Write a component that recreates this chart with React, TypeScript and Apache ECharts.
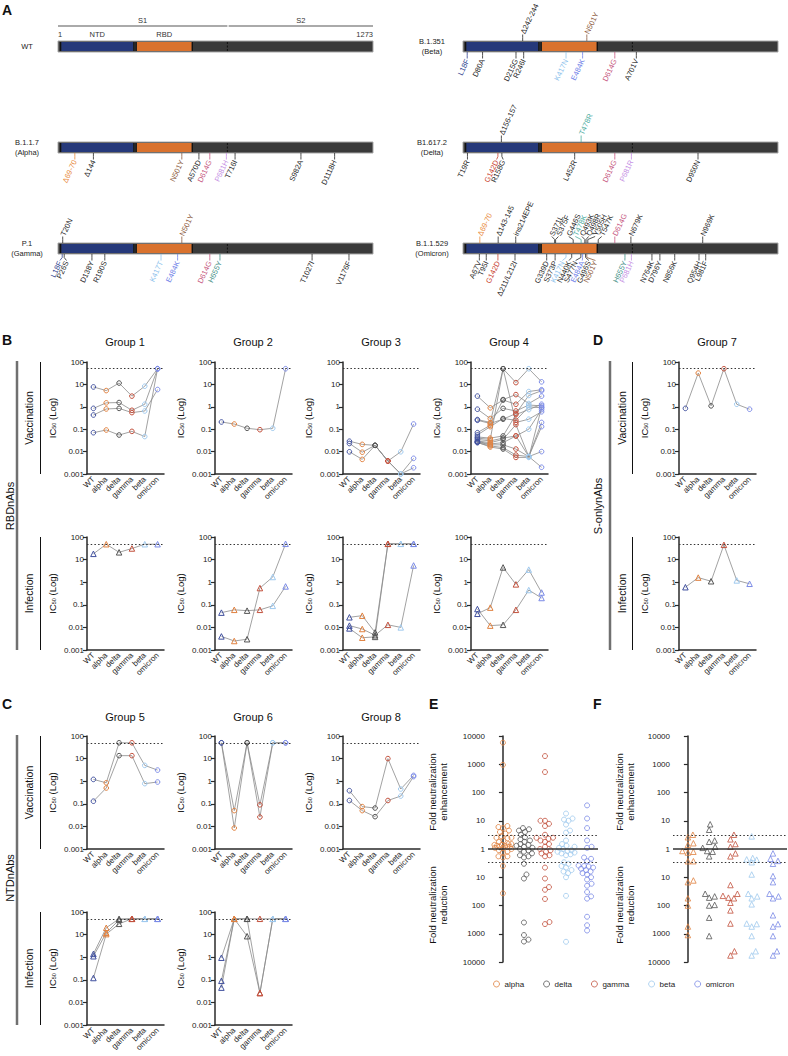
import React, { useEffect, useRef } from 'react';
import * as echarts from 'echarts';

const FONT = '"Liberation Sans", Arial, sans-serif';

// ---------------- Panel A data ----------------
const proteinLength = 1273;
const domains: [string, number, number][] = [['NTD', 14, 305], ['RBD', 319, 541]];
const subunits: [string, number, number][] = [['S1', 1, 685], ['S2', 690, 1273]];
const cleavageSite = 685;

type Mut = [string, number, 'up' | 'down'];
const wtMutations: Mut[] = [];
const betaMutations: Mut[] = [
  ['L18F', 18, 'down'], ['D80A', 80, 'down'], ['D215G', 215, 'down'], ['Δ242-244', 242, 'up'],
  ['R246I', 246, 'down'], ['K417N', 417, 'down'], ['E484K', 484, 'down'], ['N501Y', 501, 'up'],
  ['D614G', 614, 'down'], ['A701V', 701, 'down'],
];
const alphaMutations: Mut[] = [
  ['Δ69-70', 69, 'down'], ['Δ144', 144, 'down'], ['N501Y', 501, 'down'], ['A570D', 570, 'down'],
  ['D614G', 614, 'down'], ['P681H', 681, 'down'], ['T716I', 716, 'down'], ['S982A', 982, 'down'],
  ['D1118H', 1118, 'down'],
];
const deltaMutations: Mut[] = [
  ['T19R', 19, 'down'], ['G142D', 142, 'down'], ['Δ156-157', 156, 'up'], ['R158G', 158, 'down'],
  ['L452R', 452, 'down'], ['T478R', 478, 'up'], ['D614G', 614, 'down'], ['P681R', 681, 'down'],
  ['D950N', 950, 'down'],
];
const gammaMutations: Mut[] = [
  ['L18F', 18, 'down'], ['T20N', 20, 'up'], ['P26S', 26, 'down'], ['D138Y', 138, 'down'],
  ['R190S', 190, 'down'], ['K417T', 417, 'down'], ['E484K', 484, 'down'], ['N501Y', 501, 'up'],
  ['D614G', 614, 'down'], ['H655Y', 655, 'down'], ['T1027I', 1027, 'down'], ['V1176F', 1176, 'down'],
];
const omicronMutations: Mut[] = [
  ['Δ69-70', 69, 'up'], ['Δ143-145', 143, 'up'], ['ins214EPE', 214, 'up'], ['S371L', 371, 'up'],
  ['S375F', 375, 'up'], ['G446S', 446, 'up'], ['T478K', 478, 'up'], ['Q493K', 493, 'up'],
  ['Q498R', 498, 'up'], ['Y505H', 505, 'up'], ['T547K', 547, 'up'], ['D614G', 614, 'up'],
  ['N679K', 679, 'up'], ['N969K', 969, 'up'],
  ['A67V', 67, 'down'], ['T95I', 95, 'down'], ['G142D', 142, 'down'], ['Δ211/L212I', 211, 'down'],
  ['G339D', 339, 'down'], ['S373P', 373, 'down'], ['K417N', 417, 'down'], ['N440K', 440, 'down'],
  ['S477N', 477, 'down'], ['E484A', 484, 'down'], ['G496S', 496, 'down'], ['N501Y', 501, 'down'],
  ['H655Y', 655, 'down'], ['P681H', 681, 'down'], ['N764K', 764, 'down'], ['D796Y', 796, 'down'],
  ['N856K', 856, 'down'], ['Q954H', 954, 'down'], ['L981F', 981, 'down'],
];

// ---------------- Panels B, C, D data (IC50) ----------------
const categories = ['WT', 'alpha', 'delta', 'gamma', 'beta', 'omicron'];

const group1Vaccination = [
  [7.7, 5.3, 11.5, 3.0, 8.3, 50],
  [0.85, 1.5, 1.55, 0.7, 1.3, 50],
  [0.43, 0.8, 0.85, 0.55, 0.65, 5.9],
  [0.07, 0.092, 0.055, 0.08, 0.047, 50],
];
const group2Vaccination = [[0.21, 0.17, 0.11, 0.095, 0.11, 50]];
const group3Vaccination = [
  [0.029, 0.021, 0.019, 0.0038, 0.0098, 0.17],
  [0.023, 0.0094, 0.019, 0.0038, 0.001, 0.005],
  [0.0098, 0.0045, 0.019, 0.0038, 0.001, 0.0019],
];
const group4Vaccination = [
  [3.0, 0.9, 2.0, 1.3, 4.8, 5.8],
  [0.78, 0.3, 0.85, 0.65, 1.2, 1.1],
  [0.27, 0.2, 50, 12, 50, 13],
  [0.25, 0.18, 0.28, 0.5, 3.2, 5.2],
  [0.07, 0.15, 2.1, 3.5, 1.4, 3.0],
  [0.055, 0.13, 0.3, 0.25, 1.0, 0.9],
  [0.045, 0.04, 0.05, 0.45, 0.75, 1.3],
  [0.04, 0.035, 50, 0.2, 0.28, 0.6],
  [0.035, 0.03, 0.04, 0.05, 0.1, 0.75],
  [0.03, 0.025, 0.035, 0.16, 0.006, 0.2],
  [0.028, 0.022, 0.025, 0.05, 0.006, 0.13],
  [0.027, 0.02, 0.02, 0.013, 0.006, 0.01],
  [0.025, 0.018, 0.015, 0.007, 0.006, 0.002],
  [0.026, 0.016, 0.013, 0.0055, 0.0055, 0.95],
];
const group7Vaccination = [[0.85, 32, 1.1, 50, 1.3, 0.78]];

const group1Infection = [[18, 48, 21, 31, 48, 48]];
const group2Infection = [
  [0.045, 0.06, 0.055, 0.06, 0.09, 0.65],
  [0.004, 0.0025, 0.003, 0.55, 1.7, 50],
];
const group3Infection = [
  [0.028, 0.033, 0.006, 50, 50, 50],
  [0.012, 0.0085, 0.0045, 0.013, 0.01, 5.5],
  [0.009, 0.0035, 0.0038, 50, 50, 50],
];
const group4Infection = [
  [0.04, 0.075, 4.5, 0.8, 3.6, 0.35],
  [0.065, 0.012, 0.013, 0.06, 0.45, 0.2],
];
const group7Infection = [[0.6, 1.6, 1.1, 45, 1.2, 0.85]];

const group5Vaccination = [
  [1.2, 0.85, 50, 50, 5, 3.1],
  [0.13, 0.5, 13.5, 13.5, 0.78, 0.92],
];
const group6Vaccination = [
  [50, 0.05, 50, 0.09, 50, 50],
  [50, 0.0085, 50, 0.026, 50, 50],
];
const group8Vaccination = [
  [0.38, 0.075, 0.065, 10, 0.45, 1.8],
  [0.14, 0.05, 0.027, 0.14, 0.22, 1.6],
];
const group5Infection = [
  [1.4, 20, 50, 50, 50, 50],
  [1.1, 12, 45, 50, 50, 50],
  [0.12, 10.5, 30, 50, 50, 50],
];
const group6Infection = [
  [0.95, 50, 50, 50, 50, 50],
  [0.09, 50, 8.5, 0.026, 50, 50],
  [0.045, 50, 50, 0.026, 50, 50],
];
const detectionLimit = 50;

// ---------------- Panels E, F data (fold change vs WT) ----------------
const foldCategories = ['alpha', 'delta', 'gamma', 'beta', 'omicron'];
const vaccAlphaFold = [5800, 950, 6.5, 6, 5.5, 4.5, 4, 3.5, 2.8, 2.5, 2.5, 2.4, 2, 1.8, 1.5, 1.5, 1.4, 1.4, 1.3, 1.3, 1.2, 1.2, 1.2, 1.1, 1.1, 1.0, 0.9, 0.8, 0.75, 0.55, 0.55, 0.5, 0.25, 0.027];
const vaccDeltaFold = [5.5, 5, 4.5, 4, 3.2, 2.6, 2.2, 2, 1.8, 1.5, 1.4, 1.3, 1.2, 1.1, 1.0, 0.9, 0.8, 0.7, 0.6, 0.55, 0.5, 0.3, 0.125, 0.09, 0.0025, 0.0009, 0.00062, 0.00053];
const vaccGammaFold = [1950, 530, 10, 10, 7.8, 6.5, 3.2, 2.5, 2.5, 2.3, 2, 1.8, 1.5, 1.2, 1.0, 0.9, 0.8, 0.7, 0.6, 0.55, 0.22, 0.09, 0.045, 0.036, 0.017, 0.0026, 0.0022];
const vaccBetaFold = [18, 12, 11, 10, 7.3, 4.5, 3.8, 2, 1.5, 1.3, 1.2, 1.1, 1, 0.9, 0.85, 0.8, 0.75, 0.7, 0.65, 0.6, 0.34, 0.3, 0.25, 0.22, 0.18, 0.16, 0.14, 0.1, 0.022, 0.00052];
const vaccOmicronFold = [35, 12, 5.5, 2, 1.2, 1.1, 0.5, 0.45, 0.37, 0.26, 0.25, 0.24, 0.22, 0.2, 0.18, 0.16, 0.14, 0.125, 0.1, 0.083, 0.059, 0.05, 0.03, 0.021, 0.0175, 0.004, 0.002, 0.0013];

const infAlphaFold = [3.2, 2.6, 1.6, 1.4, 0.85, 0.8, 0.75, 0.37, 0.37, 0.077, 0.067, 0.018, 0.01, 0.0018, 0.0009];
const infDeltaFold = [7.5, 4.8, 2, 1.8, 1.2, 1.1, 0.85, 0.8, 0.55, 0.026, 0.021, 0.019, 0.01, 0.0105, 0.0037, 0.00083];
const infGammaFold = [3.2, 2.2, 1.5, 1.2, 0.7, 0.55, 0.053, 0.026, 0.022, 0.019, 0.018, 0.0125, 0.0067, 0.0023, 0.00024, 0.00017];
const infBetaFold = [2.8, 0.48, 0.43, 0.42, 0.34, 0.125, 0.026, 0.021, 0.018, 0.011, 0.0023, 0.0018, 0.0022, 0.00083, 0.00024, 0.00017];
const infOmicronFold = [0.7, 0.45, 0.38, 0.3, 0.11, 0.067, 0.026, 0.021, 0.018, 0.0045, 0.0018, 0.0022, 0.00083, 0.00024, 0.00017];
const foldThresholds = [3, 0.333];

// ---------------- styles ----------------
const variantColors: Record<string, string> = {
  WT: '#3f4f9e', alpha: '#e0813f', delta: '#555555', gamma: '#c2503c', beta: '#9fc9ee', omicron: '#7a8ae6',
};
const domainColors: Record<string, string> = { NTD: '#26397a', RBD: '#d9722e' };

function mutColor(name: string): string {
  if (name.startsWith('L18')) return '#2f3f8f';
  if (name.startsWith('Δ69')) return '#e8893a';
  if (name.startsWith('K417')) return '#8fc3ec';
  if (name.startsWith('E484')) return '#6f82e8';
  if (name.startsWith('N501')) return '#8c5a3c';
  if (name.startsWith('D614')) return '#c65680';
  if (name.startsWith('P681')) return '#c690e4';
  if (name.startsWith('T478')) return '#4fae9f';
  if (name.startsWith('H655')) return '#3e8e84';
  if (name.startsWith('G142')) return '#c9412f';
  return '#262626';
}

function dodge(xs: number[], d: number): number[] {
  const order = xs.map((_, i) => i).sort((a, b) => xs[a] - xs[b]);
  const clusters: { m: number[]; c: number }[] = [];
  for (const i of order) {
    clusters.push({ m: [i], c: xs[i] });
    while (clusters.length > 1) {
      const b = clusters[clusters.length - 1];
      const a = clusters[clusters.length - 2];
      const aEnd = a.c + ((a.m.length - 1) * d) / 2;
      const bStart = b.c - ((b.m.length - 1) * d) / 2;
      if (bStart - aEnd < d) {
        const m = a.m.concat(b.m);
        const c = m.reduce((s, k) => s + xs[k], 0) / m.length;
        clusters.splice(clusters.length - 2, 2, { m, c });
      } else break;
    }
  }
  const out = new Array(xs.length).fill(0);
  for (const cl of clusters) cl.m.forEach((k, j) => (out[k] = cl.c + (j - (cl.m.length - 1) / 2) * d));
  return out;
}

// beeswarm offsets (pixels), limited to +-maxOff
function swarm(values: number[], pxPerDecade: number, minDist: number, step: number, maxOff: number): number[] {
  const ys = values.map((v) => Math.log10(v) * pxPerDecade);
  const order = ys.map((_, i) => i).sort((a, b) => ys[a] - ys[b]);
  const placed: [number, number][] = [];
  const out = new Array(values.length).fill(0);
  for (const i of order) {
    let best = 0;
    let bestScore = -1;
    let found = false;
    for (let k = 0; ; k++) {
      const cand = k === 0 ? 0 : (k % 2 === 1 ? 1 : -1) * Math.ceil(k / 2) * step;
      if (Math.abs(cand) > maxOff) break;
      let dmin = Infinity;
      for (const [px, py] of placed) dmin = Math.min(dmin, Math.hypot(px - cand, py - ys[i]));
      if (dmin >= minDist) {
        best = cand;
        found = true;
        break;
      }
      if (dmin > bestScore) {
        bestScore = dmin;
        best = cand;
      }
    }
    void found;
    placed.push([best, ys[i]]);
    out[i] = best;
  }
  return out;
}

const icFmt = (v: number) => {
  const e = Math.round(Math.log10(v));
  return e >= 0 ? String(Math.pow(10, e)) : Math.pow(10, e).toFixed(-e);
};
const foldFmt = (v: number) => String(Math.round(v >= 1 ? v : 1 / v));

function txt(text: string, x: number, y: number, size: number, opts: any = {}) {
  const align = opts.align || 'center';
  return {
    type: 'text', x, y, rotation: opts.rotation || 0, silent: true,
    style: {
      text, fill: opts.fill || '#111', fontSize: size, fontFamily: FONT, fontWeight: opts.bold ? 'bold' : 'normal',
      align, textAlign: align, verticalAlign: 'middle', textVerticalAlign: 'middle', lineHeight: opts.lineHeight,
    },
  };
}

function buildOption() {
  const grid: any[] = [];
  const xAxis: any[] = [];
  const yAxis: any[] = [];
  const series: any[] = [];
  const graphic: any[] = [];
  const addGrid = (g: any, x: any, y: any) => {
    grid.push(g);
    const i = grid.length - 1;
    xAxis.push({ ...x, gridIndex: i });
    yAxis.push({ ...y, gridIndex: i });
    return i;
  };

  // ---------- Panel A ----------
  const PW = 315;
  const addProtein = (left: number, top: number, label: string, muts: Mut[], header: boolean) => {
    const gi = addGrid(
      { left, top, width: PW, height: 11 },
      { type: 'value', min: 1, max: proteinLength, show: false },
      { type: 'value', min: 0, max: 1, show: false },
    );
    series.push({
      type: 'custom', xAxisIndex: gi, yAxisIndex: gi, silent: true, data: [[1, 0]],
      renderItem: (_p: any, api: any) => {
        const X = (r: number) => api.coord([r, 0])[0];
        const yT = api.coord([1, 1])[1];
        const yB = api.coord([1, 0])[1];
        const h = yB - yT;
        const x0 = X(1);
        const x1 = X(proteinLength);
        const ch: any[] = [
          { type: 'rect', shape: { x: x0, y: yT, width: x1 - x0, height: h }, style: { fill: '#3a3a3a', stroke: '#a8a8a8', lineWidth: 1 } },
        ];
        domains.forEach(([name, s, e]) => {
          ch.push({ type: 'rect', shape: { x: X(s), y: yT + 1, width: X(e) - X(s), height: h - 2 }, style: { fill: domainColors[name] } });
          ch.push({ type: 'line', shape: { x1: X(s) - 0.6, y1: yT + 1, x2: X(s) - 0.6, y2: yB - 1 }, style: { stroke: '#111', lineWidth: 1.2 } });
          ch.push({ type: 'line', shape: { x1: X(e) + 0.6, y1: yT + 1, x2: X(e) + 0.6, y2: yB - 1 }, style: { stroke: '#111', lineWidth: 1.2 } });
        });
        ch.push({ type: 'line', shape: { x1: X(cleavageSite), y1: yT + 1, x2: X(cleavageSite), y2: yB - 1 }, style: { stroke: '#111', lineWidth: 1, lineDash: [2, 1.5] } });
        ch.push(txt(label, x0 - 31, (yT + yB) / 2, 7.5, { fill: '#222', lineHeight: 10 }));
        if (header) {
          subunits.forEach(([n, s, e]) => {
            ch.push({ type: 'line', shape: { x1: X(s), y1: yT - 15, x2: X(e), y2: yT - 15 }, style: { stroke: '#8e8e8e', lineWidth: 1.5 } });
            ch.push(txt(n, (X(s) + X(e)) / 2, yT - 21, 7.5, { fill: '#333' }));
          });
          ch.push(txt('1', X(1), yT - 7, 7.5, { fill: '#333', align: 'left' }));
          domains.forEach(([n, s, e]) => ch.push(txt(n, X((s + e) / 2), yT - 7, 7.5, { fill: '#333' })));
          ch.push(txt(String(proteinLength), X(proteinLength), yT - 7, 7.5, { fill: '#333', align: 'right' }));
        }
        return { type: 'group', children: ch };
      },
    });
    if (!muts.length) return;
    const resPerPx = (proteinLength - 1) / PW;
    const labelPos: number[] = new Array(muts.length).fill(0);
    (['up', 'down'] as const).forEach((side) => {
      const ids = muts.map((_, i) => i).filter((i) => muts[i][2] === side);
      const pos = dodge(ids.map((i) => muts[i][1]), 6.6 * resPerPx);
      ids.forEach((id, k) => (labelPos[id] = pos[k]));
    });
    series.push({
      type: 'custom', xAxisIndex: gi, yAxisIndex: gi, silent: true,
      data: muts.map((m, i) => [m[1], 0, labelPos[i], i]),
      renderItem: (_p: any, api: any) => {
        const m = muts[api.value(3)];
        const x = api.coord([api.value(0), 0])[0];
        const lx = api.coord([api.value(2), 0])[0];
        const yT = api.coord([1, 1])[1];
        const yB = api.coord([1, 0])[1];
        const up = m[2] === 'up';
        const s = up ? -1 : 1;
        const y0 = up ? yT : yB;
        const c = mutColor(m[0]);
        return {
          type: 'group',
          children: [
            { type: 'polyline', shape: { points: [[x, y0], [x, y0 + s * 3.5], [lx, y0 + s * 6.5]] }, style: { stroke: c, lineWidth: 0.8, fill: 'none' } },
            {
              type: 'text', x: lx, y: y0 + s * 7.5, rotation: (65 * Math.PI) / 180,
              style: { text: m[0], fill: c, fontSize: 7.5, fontFamily: FONT, align: up ? 'left' : 'right', textAlign: up ? 'left' : 'right', verticalAlign: 'middle', textVerticalAlign: 'middle' },
            },
          ],
        };
      },
    });
  };
  addProtein(58, 41, 'WT', wtMutations, true);
  addProtein(463, 41, 'B.1.351\n(Beta)', betaMutations, false);
  addProtein(58, 142, 'B.1.1.7\n(Alpha)', alphaMutations, false);
  addProtein(463, 142, 'B1.617.2\n(Delta)', deltaMutations, false);
  addProtein(58, 243, 'P.1\n(Gamma)', gammaMutations, false);
  addProtein(463, 243, 'B.1.1.529\n(Omicron)', omicronMutations, false);

  // ---------- line charts ----------
  const axisLineStyle = { color: '#2a2a2a', width: 1.5 };
  const addLineChart = (left: number, top: number, height: number, lines: number[][], infection: boolean) => {
    const gi = addGrid(
      { left, top, width: 77, height },
      {
        type: 'category', data: categories, boundaryGap: true,
        axisLine: { lineStyle: axisLineStyle },
        axisTick: { alignWithLabel: true, length: 3, lineStyle: { color: '#2a2a2a', width: 1 } },
        axisLabel: { rotate: 45, fontSize: 8, color: '#222', margin: 4, fontFamily: FONT, interval: 0 },
      },
      {
        type: 'log', logBase: 10, min: 0.001, max: 100,
        name: 'IC{s|50} (Log)', nameLocation: 'middle', nameRotate: 90, nameGap: 30,
        nameTextStyle: { fontSize: 9.5, color: '#111', fontFamily: FONT, rich: { s: { fontSize: 5.5, fontFamily: FONT, color: '#111', verticalAlign: 'bottom' } } },
        axisLine: { show: true, lineStyle: axisLineStyle },
        axisTick: { show: true, length: 4, lineStyle: { color: '#2a2a2a', width: 1.2 } },
        splitLine: { show: false },
        axisLabel: { fontSize: 8, color: '#222', fontFamily: FONT, formatter: icFmt, margin: 3 },
      },
    );
    lines.forEach((vals, li) => {
      series.push({
        type: 'line', xAxisIndex: gi, yAxisIndex: gi, silent: true,
        symbol: infection ? 'triangle' : 'circle', symbolSize: infection ? 5.5 : 4.6, showAllSymbol: true,
        lineStyle: { color: '#8a8a8a', width: 0.8 },
        itemStyle: { color: 'rgba(255,255,255,0)', borderWidth: 1 },
        data: vals.map((v, j) => ({ value: v, itemStyle: { borderColor: variantColors[categories[j]] } })),
        markLine: li === 0 ? {
          silent: true, symbol: ['none', 'none'], label: { show: false },
          lineStyle: { type: [1.5, 2.2], color: '#333', width: 1.2 },
          data: [{ yAxis: detectionLimit }],
        } : undefined,
      });
    });
    return gi;
  };

  const lefts = [87, 215, 343, 471];
  addLineChart(lefts[0], 362, 112, group1Vaccination, false);
  addLineChart(lefts[1], 362, 112, group2Vaccination, false);
  addLineChart(lefts[2], 362, 112, group3Vaccination, false);
  addLineChart(lefts[3], 362, 112, group4Vaccination, false);
  addLineChart(679, 362, 112, group7Vaccination, false);
  addLineChart(lefts[0], 537, 113, group1Infection, true);
  addLineChart(lefts[1], 537, 113, group2Infection, true);
  addLineChart(lefts[2], 537, 113, group3Infection, true);
  addLineChart(lefts[3], 537, 113, group4Infection, true);
  addLineChart(679, 537, 113, group7Infection, true);
  addLineChart(lefts[0], 736, 113, group5Vaccination, false);
  addLineChart(lefts[1], 736, 113, group6Vaccination, false);
  addLineChart(lefts[2], 736, 113, group8Vaccination, false);
  addLineChart(lefts[0], 912, 113, group5Infection, true);
  addLineChart(lefts[1], 912, 113, group6Infection, true);

  // ---------- swarm charts ----------
  const addSwarm = (left: number, width: number, xMin: number, xMax: number, sets: number[][], tri: boolean) => {
    const height = 226;
    const gi = addGrid(
      { left, top: 736, width, height },
      { type: 'value', min: xMin, max: xMax, show: false },
      {
        type: 'log', logBase: 10, min: 0.0001, max: 10000,
        axisLine: { show: true, lineStyle: axisLineStyle },
        axisTick: { show: true, length: 4, lineStyle: { color: '#2a2a2a', width: 1.2 } },
        splitLine: { show: false },
        axisLabel: { fontSize: 8, color: '#222', fontFamily: FONT, formatter: foldFmt, margin: 3 },
      },
    );
    const pxPerUnit = width / (xMax - xMin);
    sets.forEach((vals, ci) => {
      const offs = swarm(vals, height / 8, tri ? 5.5 : 4.5, 0.5, tri ? 8 : 8.5);
      const name = foldCategories[ci];
      series.push({
        type: 'scatter', name, xAxisIndex: gi, yAxisIndex: gi, silent: true,
        symbol: tri ? 'triangle' : 'circle', symbolSize: tri ? 5.5 : 5,
        itemStyle: { color: 'rgba(255,255,255,0)', borderColor: variantColors[name], borderWidth: 1 },
        data: vals.map((v, i) => [ci + offs[i] / pxPerUnit, v]),
        markLine: ci === 0 ? {
          silent: true, symbol: ['none', 'none'], label: { show: false },
          data: [
            { yAxis: 1, lineStyle: { type: 'solid', color: '#333', width: 1.5 } },
            ...foldThresholds.map((t) => ({ yAxis: t, lineStyle: { type: [1.5, 2.2], color: '#333', width: 1.2 } })),
          ],
        } : undefined,
      });
    });
  };
  addSwarm(488, 110, -0.71, 4.52, [vaccAlphaFold, vaccDeltaFold, vaccGammaFold, vaccBetaFold, vaccOmicronFold], false);
  addSwarm(673, 114, -0.7, 4.66, [infAlphaFold, infDeltaFold, infGammaFold, infBetaFold, infOmicronFold], true);

  // ---------- decorations ----------
  const R = Math.PI / 2;
  [['A', 2, 10], ['B', 2, 340], ['C', 2, 704], ['D', 593, 340], ['E', 429, 704], ['F', 593, 704]].forEach(([t, x, y]) =>
    graphic.push(txt(t as string, x as number, y as number, 14, { bold: true, align: 'left' })),
  );
  const titles: [string, number, number][] = [
    ['Group 1', lefts[0], 342], ['Group 2', lefts[1], 342], ['Group 3', lefts[2], 342], ['Group 4', lefts[3], 342],
    ['Group 7', 679, 342], ['Group 5', lefts[0], 717], ['Group 6', lefts[1], 717], ['Group 8', lefts[2], 717],
  ];
  titles.forEach(([t, l, y]) => graphic.push(txt(t, l + 38, y, 11)));

  const vline = (x: number, y1: number, y2: number, w: number, c: string) =>
    ({ type: 'line', silent: true, shape: { x1: x, y1, x2: x, y2 }, style: { stroke: c, lineWidth: w } });
  graphic.push(vline(17, 361, 650, 2.5, '#707070'));
  graphic.push(vline(17, 735, 1025, 2.5, '#707070'));
  graphic.push(vline(610, 361, 650, 2.5, '#707070'));
  graphic.push(txt('RBDnAbs', 10, 506, 11, { rotation: R }));
  graphic.push(txt('NTDnAbs', 10, 878, 11, { rotation: R }));
  graphic.push(txt('S-onlynAbs', 598, 506, 11, { rotation: R }));
  const rows: [string, number, number, number, number][] = [
    ['Vaccination', 29, 40.5, 362, 474], ['Infection', 29, 40.5, 537, 650],
    ['Vaccination', 29, 40.5, 736, 849], ['Infection', 29, 40.5, 912, 1025],
    ['Vaccination', 622, 632.5, 362, 474], ['Infection', 622, 632.5, 537, 650],
  ];
  rows.forEach(([t, tx, lx, y1, y2]) => {
    graphic.push(vline(lx, y1, y2, 1, '#111'));
    graphic.push(txt(t, tx, (y1 + y2) / 2, 10.5, { rotation: R }));
  });
  [[438, 'enhancement', 792], [438, 'reduction', 905], [625, 'enhancement', 792], [625, 'reduction', 905]].forEach(([x, w, y]) =>
    graphic.push(txt('Fold neutralization\n' + w, x as number, y as number, 9.5, { rotation: R, lineHeight: 11.5 })),
  );

  return {
    animation: false,
    backgroundColor: '#ffffff',
    textStyle: { fontFamily: FONT },
    grid, xAxis, yAxis, series, graphic,
    legend: {
      left: 488, top: 975, itemWidth: 6, itemHeight: 6, itemGap: 19, icon: 'circle',
      textStyle: { fontSize: 8, color: '#222', fontFamily: FONT },
      data: foldCategories.map((n) => ({ name: n, itemStyle: { color: 'rgba(255,255,255,0)', borderColor: variantColors[n], borderWidth: 1 } })),
    },
  };
}

export default function App() {
  const ref = useRef<HTMLDivElement>(null);
  useEffect(() => {
    const chart = echarts.init(ref.current!, undefined, { renderer: 'svg', width: 788, height: 1056 });
    chart.setOption(buildOption() as any);
    return () => chart.dispose();
  }, []);
  return (
    <div
      ref={ref}
      style={{ position: 'absolute', left: 0, top: 0, width: 788, height: 1056, background: '#fff' }}
    />
  );
}
